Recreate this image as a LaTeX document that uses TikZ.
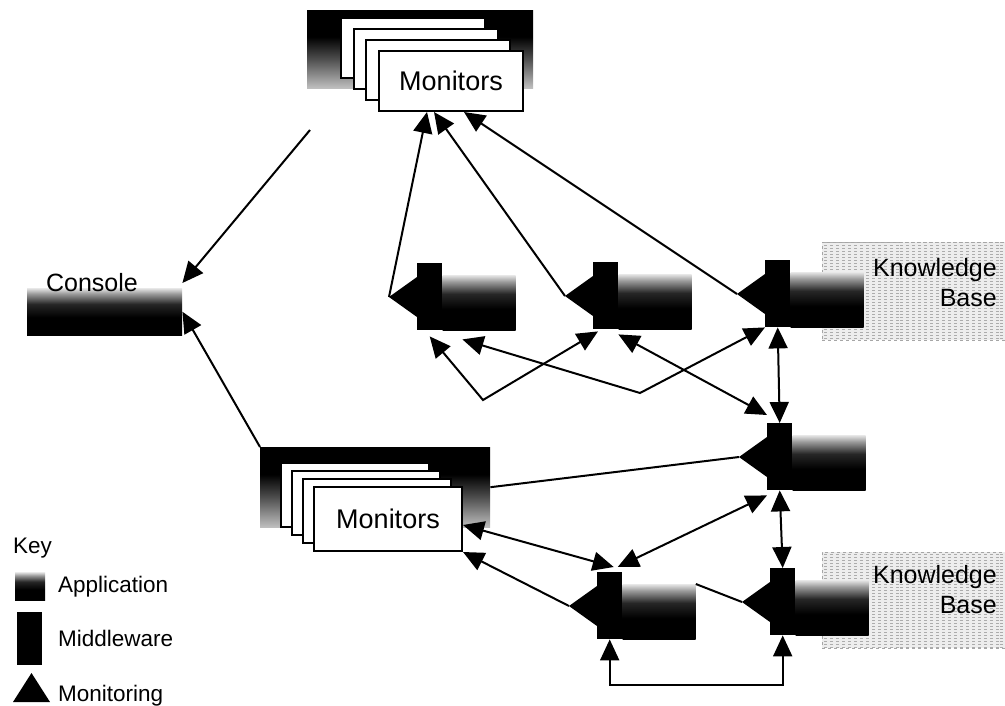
\documentclass[tikz,border=0pt]{standalone}
\usepackage{fontspec}
\setmainfont{Liberation Sans}
\usetikzlibrary{arrows.meta,patterns}

\pgfdeclareverticalshading{appshade}{100bp}{color(0bp)=(black); color(25bp)=(black); color(44bp)=(black); color(58bp)=(black!85); color(69bp)=(black!40); color(75bp)=(black!10); color(100bp)=(black!10)}
\pgfdeclareverticalshading{monshade}{100bp}{color(0bp)=(black!25); color(25bp)=(black!25); color(44bp)=(black!70); color(58bp)=(black); color(100bp)=(black)}

% one application: middleware block, application block, monitoring triangle
\newcommand{\appunit}[3]{%
  \node[mware] (mw#1) at (#2,#3) {};
  \node[appl] (app#1) at ([yshift=-12pt]mw#1.north east) {};
  \coordinate (mon#1) at ([shift={(-28pt,-34pt)}]mw#1.north west);
  \fill ([yshift=-14pt]mw#1.north west) -- (mon#1) -- ([yshift=-54pt]mw#1.north west) -- cycle;
}

\begin{document}
\begin{tikzpicture}
  [x=1pt,y=-1pt,>={Triangle[length=21pt,width=19pt]},
   link/.style={line width=2pt},
   mware/.style={fill=black,inner sep=0,minimum width=25pt,minimum height=67pt,anchor=north west},
   appl/.style={shade,shading=appshade,inner sep=0,minimum width=73pt,minimum height=55pt,anchor=north west},
   backing/.style={shade,shading=monshade,inner sep=0,anchor=north west},
   card/.style={draw,fill=white,line width=2pt,inner sep=0,anchor=north west,font=\fontsize{27}{30}\selectfont},
   kbox/.style={preaction={fill=gray!14},pattern=horizontal lines,pattern color=gray!65,draw=gray!70,dashed,inner sep=0,anchor=north west},
   kbtxt/.style={anchor=east,align=right,inner sep=0,font=\fontsize{25}{30}\selectfont},
   keytxt/.style={anchor=west,inner sep=0,font=\fontsize{22.5}{26}\selectfont}]
  \useasboundingbox (0,0) rectangle (1005,705);

  % knowledge bases
  \node[kbox,minimum width=183pt,minimum height=98pt] (kb1) at (822,242) {};
  \node[kbox,minimum width=183pt,minimum height=96pt] (kb2) at (822,552) {};

  % monitors, top
  \node[backing,minimum width=226pt,minimum height=78pt] (mtbg) at (307,10) {};
  \foreach \i in {0,1,2}
    \node[card,minimum width=144pt,minimum height=60pt] (mt\i) at (340+12.7*\i,17+11*\i) {};
  \node[card,minimum width=144pt,minimum height=60pt] (mt3) at (378,50) {Monitors};

  % monitors, bottom
  \node[backing,minimum width=230pt,minimum height=80pt] (mbbg) at (260,447) {};
  \foreach \i in {0,1,2}
    \node[card,minimum width=148pt,minimum height=64pt] (mb\i) at (280+11*\i,462+8*\i) {};
  \node[card,minimum width=148pt,minimum height=64pt] (mb3) at (313,486) {Monitors};

  % console
  \node[appl,minimum width=155pt,minimum height=47pt] (con) at (27,288) {};
  \node[inner sep=0,font=\fontsize{25}{30}\selectfont] (contxt) at (92,283) {Console};
  \coordinate (cfree) at (310,130);

  % applications
  \appunit{1}{417}{263}
  \appunit{2}{593}{262}
  \appunit{3}{765}{260}
  \appunit{4}{767}{423}
  \appunit{5}{597}{572}
  \appunit{6}{770}{568}

  \node[kbtxt] (kbt1) at (997,283) {Knowledge\\Base};
  \node[kbtxt] (kbt2) at (997,590) {Knowledge\\Base};

  % monitoring to monitors
  \draw[link,->] (mon1) -- ([xshift=49pt]mt3.south west);
  \draw[link,->] (mon2) -- ([xshift=56pt]mt3.south west);
  \draw[link,->] (mon3) -- ([xshift=86pt]mt3.south west);
  \draw[link,->] (mon5) -- (mb3.south east);
  \draw[link] (mon4) -- (mbbg.east);
  \draw[link] (app5.north east) -- (mon6);

  % to the console
  \draw[link,->] (cfree) -- ([yshift=5pt]con.north east);
  \draw[link,->] (mbbg.north west) -- (con.east);

  % middleware links
  \draw[link,<->] ([yshift=-6pt]mw1.south) -- (483,400) -- ([shift={(5pt,-2pt)}]mw2.south west);
  \draw[link,<->] ([shift={(20pt,-9pt)}]mw1.south east) -- (640,393) -- (mw3.south west);
  \draw[link,<->] ([yshift=-5pt]mw2.south east) -- ([yshift=8pt]mw4.north west);
  \draw[link,<->] (mw3.south) -- (mw4.north);
  \draw[link,<->] (mw4.south) -- (mw6.north);
  \draw[link,<->] ([yshift=-5pt]mw4.south west) -- ([shift={(8pt,5pt)}]mw5.north);
  \draw[link,<->] ([yshift=-6pt]mb3.east) -- ([shift={(4pt,5pt)}]mw5.north);
  \draw[link,<->] (mw5.south) -- ++(0,46) -| (mw6.south);

  % key
  \node[keytxt] (key) at (13,548) {Key};
  \node[appl,minimum width=30pt,minimum height=28pt] (keyapp) at (15,572) {};
  \node[keytxt] (keyapptxt) at (58,587) {Application};
  \node[mware,minimum width=25pt,minimum height=53pt] (keymw) at (17,612) {};
  \node[keytxt] (keymwtxt) at (58,638) {Middleware};
  \coordinate (keymon) at (31.5,673);
  \fill (13,702) -- (keymon) -- (50,702) -- cycle;
  \node[keytxt] (keymontxt) at (58,696) {Monitoring};
\end{tikzpicture}
\end{document}
